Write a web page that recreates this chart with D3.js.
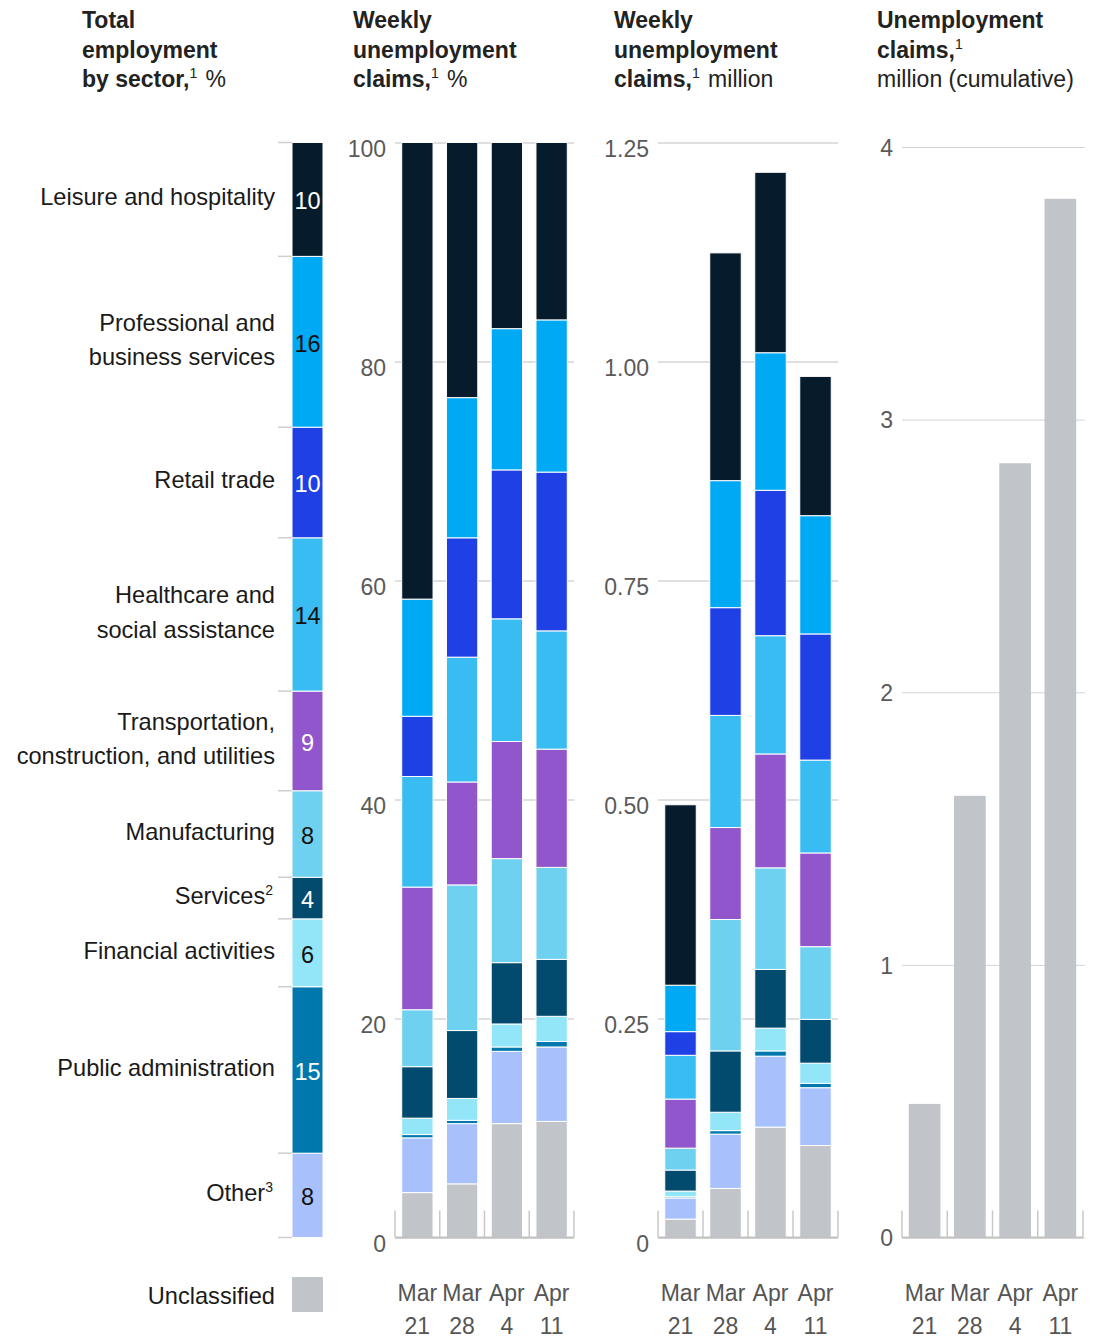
<!DOCTYPE html>
<html>
<head>
<meta charset="utf-8">
<script src="https://cdn.jsdelivr.net/npm/d3@7"></script>
<style>
  body { margin: 0; background: #fff; }
  svg { display: block; font-family: "Liberation Sans", Arial, sans-serif; }
</style>
</head>
<body>
<script>
'use strict';

// sectors, top to bottom as they sit in the stacks
const sectors = ["Leisure and hospitality", "Professional and business services", "Retail trade",
  "Healthcare and social assistance", "Transportation, construction, and utilities", "Manufacturing",
  "Services", "Financial activities", "Public administration", "Other", "Unclassified"];
const sectorLabels = ["Leisure and hospitality", "Professional and\nbusiness services", "Retail trade",
  "Healthcare and\nsocial assistance", "Transportation,\nconstruction, and utilities", "Manufacturing",
  "Services\u00b2", "Financial activities", "Public administration", "Other\u00b3", "Unclassified"];
const sectorColors = ["#061c2c", "#00a9f4", "#1f40e4", "#38bcf2", "#9256cc", "#6fd1f0",
  "#034b6e", "#93e5f8", "#0178ad", "#a8c0fc", "#c1c5c9"];
const darkSectors = ["Leisure and hospitality", "Retail trade", "Transportation, construction, and utilities",
  "Services", "Public administration"];

const weeks = ["Mar 21", "Mar 28", "Apr 4", "Apr 11"];

// total employment by sector, % (no unclassified)
const employmentShare = [10.4, 15.6, 10.1, 14.0, 9.1, 7.9, 3.8, 6.2, 15.2, 7.7];

// weekly claims, % by sector
const pctMar21 = [41.7, 10.7, 5.5, 10.1, 11.2, 5.2, 4.7, 1.5, 0.3, 5.0, 4.1];
const pctMar28 = [23.3, 12.8, 10.9, 11.4, 9.4, 13.3, 6.2, 2.0, 0.3, 5.5, 4.9];
const pctApr4 = [17.0, 12.9, 13.6, 11.2, 10.7, 9.5, 5.6, 2.1, 0.4, 6.6, 10.4];
const pctApr11 = [16.2, 13.9, 14.5, 10.8, 10.8, 8.4, 5.2, 2.3, 0.5, 6.8, 10.6];

// weekly claims, million by sector
const milMar21 = [0.206, 0.053, 0.027, 0.050, 0.056, 0.025, 0.024, 0.0065, 0.0015, 0.024, 0.021];
const milMar28 = [0.260, 0.145, 0.123, 0.128, 0.105, 0.150, 0.070, 0.021, 0.004, 0.062, 0.056];
const milApr4 = [0.206, 0.157, 0.166, 0.135, 0.130, 0.116, 0.067, 0.026, 0.006, 0.081, 0.126];
const milApr11 = [0.159, 0.135, 0.144, 0.106, 0.107, 0.083, 0.050, 0.023, 0.005, 0.066, 0.105];

// cumulative claims, million
const cumulativeClaims = [0.49, 1.62, 2.84, 3.81];

const pctTicks = [0, 20, 40, 60, 80, 100];
const milTicks = [0, 0.25, 0.5, 0.75, 1, 1.25];
const cumTicks = [0, 1, 2, 3, 4];

const baseY = 1237.5;
const colorOf = d3.scaleOrdinal().domain(sectors).range(sectorColors);
const supDigits = { '\u00b9': '1', '\u00b2': '2', '\u00b3': '3' };

const svg = d3.select('body').append('svg')
  .attr('width', 1095)
  .attr('height', 1339);

// write a string into a text/tspan, turning ¹²³ into raised small digits
function writeRich(t, str, weight) {
  let buf = '';
  const flush = () => {
    if (buf) t.append('tspan').attr('font-weight', weight).text(buf);
    buf = '';
  };
  for (const ch of str) {
    if (supDigits[ch]) {
      flush();
      t.append('tspan').attr('dy', -9).style('font-size', '14px').attr('font-weight', 'normal').text(supDigits[ch]);
      t.append('tspan').attr('dy', 9).text('\u200a');
    } else {
      buf += ch;
    }
  }
  flush();
}

// headers
const headers = [
  { x: 82, lines: [[["Total", 1]], [["employment", 1]], [["by sector,\u00b9", 1], [" %", 0]]] },
  { x: 353, lines: [[["Weekly", 1]], [["unemployment", 1]], [["claims,\u00b9", 1], [" %", 0]]] },
  { x: 614, lines: [[["Weekly", 1]], [["unemployment", 1]], [["claims,\u00b9", 1], [" million", 0]]] },
  { x: 877, lines: [[["Unemployment", 1]], [["claims,\u00b9", 1]], [["million (cumulative)", 0]]] }
];
headers.forEach(h => {
  h.lines.forEach((parts, i) => {
    const t = svg.append('text')
      .attr('x', h.x)
      .attr('y', 28 + i * 29.6)
      .attr('fill', '#222')
      .style('font-size', '23px');
    parts.forEach(p => writeRich(t, p[0], p[1] ? 'bold' : 'normal'));
  });
});

// ---- panel 1: total employment column
function drawEmployment() {
  const x = d3.scaleBand().domain(['total']).range([292, 323]);
  const y = d3.scaleLinear().domain([0, d3.sum(employmentShare)]).range([baseY, 142.5]);
  const keys = sectors.slice(0, 10).reverse();
  const row = { week: 'total' };
  employmentShare.forEach((v, i) => row[sectors[i]] = v);
  const series = d3.stack().keys(keys)([row]);

  svg.append('g').selectAll('rect')
    .data(series)
    .join('rect')
      .attr('x', x('total'))
      .attr('width', x.bandwidth())
      .attr('y', d => y(d[0][1]))
      .attr('height', d => y(d[0][0]) - y(d[0][1]))
      .attr('fill', d => colorOf(d.key))
      .attr('stroke', '#fff')
      .attr('stroke-width', 1);

  // little separators on the left
  const edges = [0].concat(series.map(d => d[0][1]));
  svg.append('g').selectAll('line')
    .data(edges)
    .join('line')
      .attr('x1', 278).attr('x2', 292)
      .attr('y1', d => y(d)).attr('y2', d => y(d))
      .attr('stroke', '#cfcfcf')
      .attr('stroke-width', 1.5);

  // values inside the column
  svg.append('g').selectAll('text')
    .data(series)
    .join('text')
      .attr('x', x('total') + x.bandwidth() / 2)
      .attr('y', d => (y(d[0][0]) + y(d[0][1])) / 2 + 10)
      .attr('text-anchor', 'middle')
      .attr('fill', d => darkSectors.includes(d.key) ? '#fff' : '#111')
      .style('font-size', '23.5px')
      .text(d => Math.round(d[0][1] - d[0][0]));

  // sector names
  series.forEach(d => {
    const lines = sectorLabels[sectors.indexOf(d.key)].split('\n');
    const mid = (y(d[0][0]) + y(d[0][1])) / 2;
    lines.forEach((l, i) => {
      const t = svg.append('text')
        .attr('x', 275)
        .attr('y', mid + 6 - (lines.length - 1) * 17.25 + i * 34.5)
        .attr('text-anchor', 'end')
        .attr('fill', '#1a1a1a')
        .style('font-size', '23.6px');
      writeRich(t, l, 'normal');
    });
  });

  // unclassified legend
  svg.append('rect')
    .attr('x', x('total')).attr('y', 1277)
    .attr('width', x.bandwidth()).attr('height', 35)
    .attr('fill', colorOf('Unclassified'));
  svg.append('text')
    .attr('x', 275).attr('y', 1304)
    .attr('text-anchor', 'end')
    .attr('fill', '#1a1a1a')
    .style('font-size', '23.6px')
    .text(sectorLabels[10]);
}

// grid, ticks labels and week labels shared by the chart panels
function drawFrame(x, y, x0, x1, ticks, fmt, dy, gridWidth) {
  const axis = d3.axisLeft(y)
    .tickValues(ticks)
    .tickFormat(fmt)
    .tickSize(-(x1 - x0))
    .tickPadding(9);
  const g = svg.append('g')
    .attr('transform', `translate(${x0},0)`)
    .call(axis);
  g.select('.domain').remove();
  g.selectAll('.tick line')
    .attr('stroke', '#d4d4d4')
    .attr('stroke-width', gridWidth);
  g.selectAll('.tick text')
    .attr('fill', '#5a5a5a')
    .attr('dy', dy)
    .style('font-size', '23px')
    .style('font-family', '"Liberation Sans", Arial, sans-serif');

  const labels = svg.append('g').selectAll('text')
    .data(weeks)
    .join('text')
      .attr('text-anchor', 'middle')
      .attr('fill', '#555')
      .style('font-size', '23px');
  labels.append('tspan')
    .attr('x', d => x(d) + x.bandwidth() / 2)
    .attr('y', 1301)
    .text(d => d.split(' ')[0]);
  labels.append('tspan')
    .attr('x', d => x(d) + x.bandwidth() / 2)
    .attr('y', 1334)
    .text(d => d.split(' ')[1]);
}

function drawBase(x, x0, x1) {
  svg.append('line')
    .attr('x1', x0).attr('x2', x1)
    .attr('y1', baseY).attr('y2', baseY)
    .attr('stroke', '#c2c2c2')
    .attr('stroke-width', 2);
  svg.append('g').selectAll('line')
    .data(d3.range(weeks.length + 1))
    .join('line')
      .attr('x1', i => x0 + i * x.step()).attr('x2', i => x0 + i * x.step())
      .attr('y1', baseY - 27).attr('y2', baseY)
      .attr('stroke', '#c8c8c8')
      .attr('stroke-width', 1.5);
}

function drawStacked(x0, x1, yMax, ticks, fmt, rows) {
  const x = d3.scaleBand().domain(weeks).range([x0, x1]).paddingInner(0.3).paddingOuter(0.15);
  const y = d3.scaleLinear().domain([0, yMax]).range([baseY, 142.5]);
  drawFrame(x, y, x0, x1, ticks, fmt, '0.6em', 1.5);

  const table = weeks.map((w, i) => {
    const row = { week: w };
    sectors.forEach((s, j) => row[s] = rows[i][j]);
    return row;
  });
  const series = d3.stack().keys(sectors.slice().reverse())(table);

  svg.append('g').selectAll('g')
    .data(series)
    .join('g')
      .attr('fill', d => colorOf(d.key))
    .selectAll('rect')
    .data(d => d)
    .join('rect')
      .attr('x', d => x(d.data.week))
      .attr('width', x.bandwidth())
      .attr('y', d => y(d[1]))
      .attr('height', d => y(d[0]) - y(d[1]))
      .attr('stroke', '#fff')
      .attr('stroke-width', 1);

  drawBase(x, x0, x1);
}

function drawCumulative() {
  const x0 = 902, x1 = 1083;
  const x = d3.scaleBand().domain(weeks).range([x0, x1]).paddingInner(0.3).paddingOuter(0.15);
  const y = d3.scaleLinear().domain([0, 4]).range([baseY, 147]);
  drawFrame(x, y, x0, x1 + 2, cumTicks, d3.format('d'), '0.36em', 1);

  svg.append('g').selectAll('rect')
    .data(cumulativeClaims)
    .join('rect')
      .attr('x', (d, i) => x(weeks[i]))
      .attr('width', x.bandwidth())
      .attr('y', d => y(d))
      .attr('height', d => baseY - y(d))
      .attr('fill', colorOf('Unclassified'));

  drawBase(x, x0, x1);
}

drawEmployment();
drawStacked(395, 574, 100, pctTicks, d3.format('d'),
  [pctMar21, pctMar28, pctApr4, pctApr11]);
drawStacked(658, 838, 1.25, milTicks, d => d === 0 ? '0' : d3.format('.2f')(d),
  [milMar21, milMar28, milApr4, milApr11]);
drawCumulative();
</script>
</body>
</html>
